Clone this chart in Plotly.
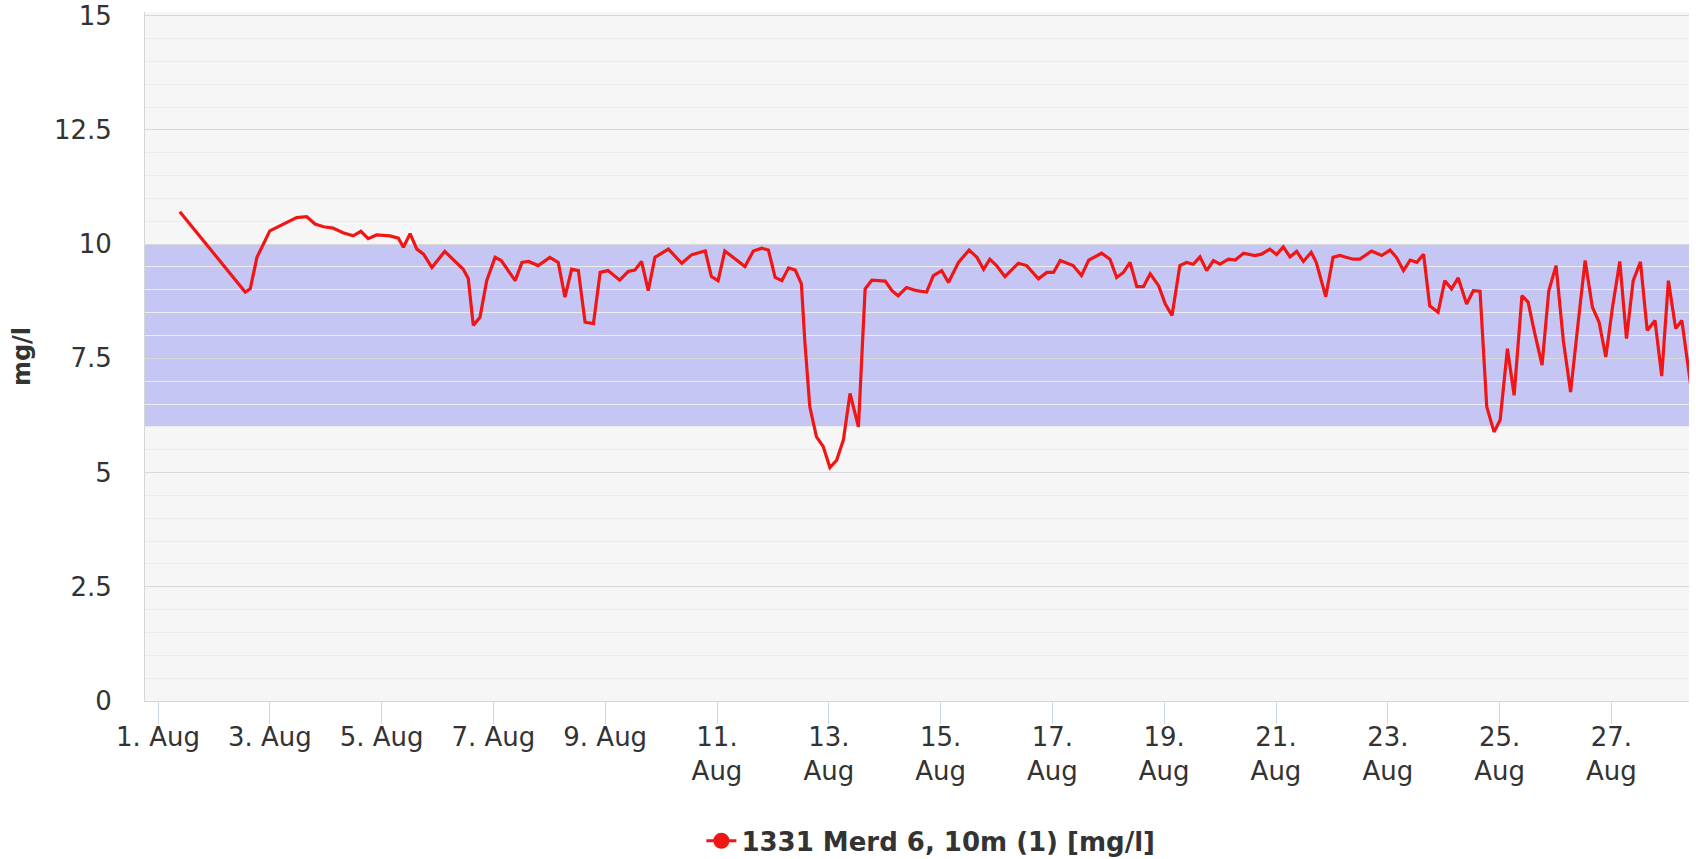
import pandas as pd
import plotly.graph_objects as go

# Observation time, in days after 1 Aug 00:00
days_since_aug1 = [
    0.39, 1.56, 1.65, 1.77, 2.00, 2.24, 2.48, 2.66, 2.81, 2.96, 3.13, 3.31, 3.49, 3.63, 3.76, 3.91,
    4.15, 4.30, 4.39, 4.51, 4.63, 4.75, 4.90, 5.13, 5.28, 5.46, 5.55, 5.64, 5.76, 5.88, 6.03, 6.14,
    6.39, 6.51, 6.63, 6.80, 7.01, 7.16, 7.28, 7.40, 7.52, 7.64, 7.79, 7.91, 8.05, 8.26, 8.41, 8.53,
    8.65, 8.77, 8.89, 9.13, 9.37, 9.55, 9.79, 9.90, 10.02, 10.14, 10.50, 10.65, 10.80, 10.92, 11.04,
    11.16, 11.28, 11.40, 11.51, 11.57, 11.66, 11.78, 11.90, 12.02, 12.14, 12.26, 12.38, 12.45, 12.53,
    12.65, 12.77, 13.01, 13.13, 13.24, 13.39, 13.57, 13.75, 13.87, 14.02, 14.14, 14.32, 14.51, 14.65,
    14.77, 14.88, 15.00, 15.15, 15.39, 15.54, 15.75, 15.90, 16.02, 16.14, 16.37, 16.52, 16.65, 16.88,
    17.03, 17.15, 17.27, 17.39, 17.51, 17.63, 17.75, 17.90, 18.02, 18.14, 18.28, 18.40, 18.52, 18.64,
    18.76, 18.88, 19.00, 19.15, 19.27, 19.42, 19.62, 19.74, 19.89, 20.01, 20.13, 20.25, 20.37, 20.49,
    20.63, 20.72, 20.89, 21.02, 21.14, 21.38, 21.50, 21.71, 21.89, 22.04, 22.16, 22.28, 22.40, 22.52,
    22.64, 22.75, 22.90, 23.02, 23.14, 23.26, 23.41, 23.53, 23.65, 23.77, 23.90, 24.01, 24.14, 24.26,
    24.40, 24.51, 24.63, 24.76, 24.88, 25.01, 25.14, 25.27, 25.41, 25.53, 25.66, 25.78, 25.90, 26.02,
    26.15, 26.27, 26.39, 26.52, 26.64, 26.78, 26.90, 27.02, 27.15, 27.26, 27.42,
]

# Dissolved oxygen, mg/l
oxygen_mg_l = [
    10.71, 8.95, 9.02, 9.71, 10.29, 10.44, 10.58, 10.60, 10.44, 10.38, 10.35, 10.25, 10.18, 10.28, 10.12, 10.20,
    10.18, 10.13, 9.93, 10.23, 9.89, 9.78, 9.49, 9.84, 9.67, 9.45, 9.25, 8.22, 8.40, 9.20, 9.71, 9.64,
    9.20, 9.60, 9.62, 9.53, 9.71, 9.60, 8.84, 9.45, 9.42, 8.29, 8.26, 9.38, 9.42, 9.21, 9.40, 9.43,
    9.62, 8.98, 9.71, 9.89, 9.58, 9.77, 9.85, 9.29, 9.20, 9.85, 9.51, 9.85, 9.91, 9.87, 9.27,
    9.20, 9.48, 9.43, 9.13, 7.89, 6.44, 5.78, 5.57, 5.11, 5.27, 5.71, 6.73, 6.36, 6.00,
    9.02, 9.21, 9.19, 8.98, 8.87, 9.05, 8.98, 8.95, 9.31, 9.42, 9.16, 9.60, 9.87, 9.71,
    9.45, 9.67, 9.53, 9.29, 9.58, 9.53, 9.24, 9.38, 9.38, 9.64, 9.53, 9.31, 9.65, 9.80,
    9.67, 9.27, 9.38, 9.60, 9.07, 9.07, 9.35, 9.09, 8.69, 8.44, 9.53, 9.60, 9.56, 9.72,
    9.42, 9.64, 9.56, 9.67, 9.65, 9.80, 9.75, 9.78, 9.89, 9.77, 9.94, 9.72, 9.84, 9.62,
    9.82, 9.60, 8.85, 9.71, 9.75, 9.67, 9.67, 9.85, 9.75, 9.87, 9.70, 9.42, 9.65, 9.60,
    9.78, 8.65, 8.51, 9.20, 9.02, 9.26, 8.69, 8.98, 8.97, 6.44, 5.89, 6.15, 7.71, 6.69,
    8.87, 8.73, 8.04, 7.35, 8.98, 9.53, 7.89, 6.76, 8.33, 9.64, 8.62, 8.29, 7.53, 8.62,
    9.62, 7.93, 9.20, 9.61, 8.11, 8.33, 7.11, 9.20, 8.15, 8.33, 6.90,
]

series_name = "1331 Merd 6, 10m (1) [mg/l]"
band_low, band_high = 6, 10

tick_dates = ["2019-08-%02d" % d for d in range(1, 28, 2)]
tick_labels = ["1. Aug", "3. Aug", "5. Aug", "7. Aug", "9. Aug",
               "11.<br>Aug", "13.<br>Aug", "15.<br>Aug", "17.<br>Aug", "19.<br>Aug",
               "21.<br>Aug", "23.<br>Aug", "25.<br>Aug", "27.<br>Aug"]

times = pd.Timestamp("2019-08-01") + pd.to_timedelta(days_since_aug1, unit="D")

FONT = "DejaVu Sans"
RED = "#f01616"
fig = go.Figure()
fig.add_trace(go.Scatter(
    x=times, y=oxygen_mg_l, mode="lines",
    line=dict(color=RED, width=3.2),
    showlegend=False, name=series_name,
))
# legend entry (line with circle marker)
fig.add_trace(go.Scatter(
    x=[None], y=[None], mode="lines+markers", name=series_name,
    line=dict(color=RED, width=3.2),
    marker=dict(color=RED, size=16, symbol="circle"),
    showlegend=True,
))

fig.add_shape(type="rect", xref="paper", x0=0, x1=1, yref="y", y0=band_low, y1=band_high,
              fillcolor="#c6c6f5", line=dict(width=0), layer="below")

fig.update_layout(
    width=1696, height=859,
    margin=dict(l=145, r=7, t=12, b=158, autoexpand=False),
    paper_bgcolor="white",
    plot_bgcolor="#f6f6f6",
    font=dict(family=FONT, size=26, color="#333333"),
    showlegend=True,
    legend=dict(orientation="h", x=0.509, xanchor="center", y=-0.203, yanchor="middle",
                font=dict(family=FONT, size=26, color="#333333", weight="bold"),
                bgcolor="rgba(0,0,0,0)"),
    xaxis=dict(
        type="date", automargin=False,
        range=["2019-07-31 18:25", "2019-08-28 09:19"],
        tickvals=tick_dates, ticktext=tick_labels,
        ticks="outside", ticklen=22, tickcolor="#ccd6eb", tickwidth=1,
        ticklabelstandoff=-9,
        showline=True, linecolor="#ccd6eb", linewidth=1,
        showgrid=False, zeroline=False,
        tickfont=dict(family=FONT, size=26, color="#333333"),
    ),
    yaxis=dict(
        automargin=False,
        range=[0, 15.08],
        dtick=2.5, tick0=0,
        showgrid=True, gridcolor="#d8d8d8", gridwidth=1,
        minor=dict(dtick=0.5, tick0=0, showgrid=True, gridcolor="#ececec", gridwidth=1),
        showline=True, linecolor="#d6d6d6", linewidth=1,
        zeroline=False, ticks="", ticklabelstandoff=27,
        tickfont=dict(family=FONT, size=26, color="#333333"),
        title=dict(text="<b>mg/l</b>", standoff=16,
                   font=dict(family=FONT, size=24, color="#333333")),
    ),
)

fig.write_html("out.html", config={"displayModeBar": False},
               post_script="document.body.style.margin='0';document.body.style.overflow='hidden';")
